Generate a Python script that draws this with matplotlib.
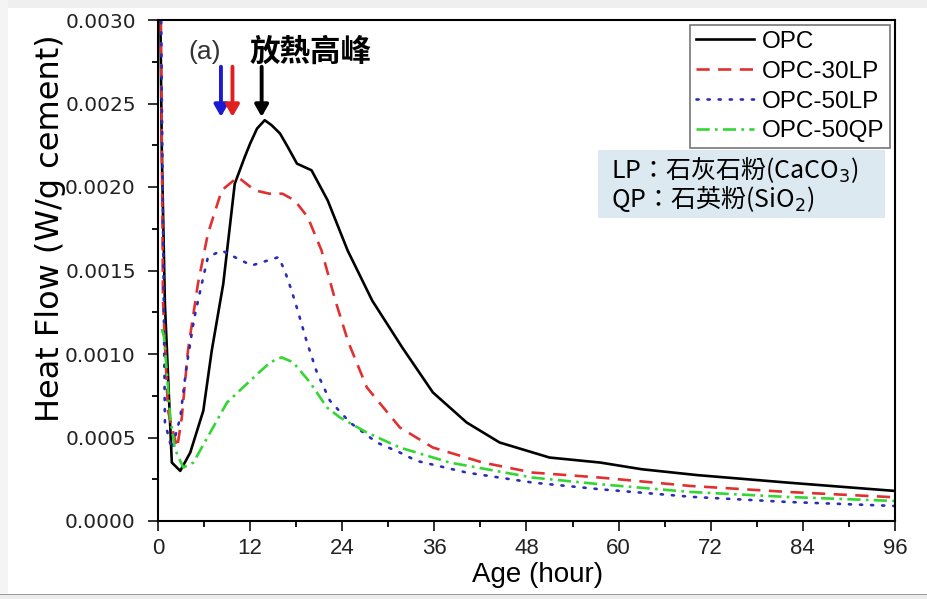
import matplotlib
matplotlib.use('Agg')
import matplotlib.pyplot as plt
from matplotlib.patches import Rectangle
from matplotlib.ticker import MultipleLocator, FormatStrFormatter

plt.rcParams['font.family'] = ['Liberation Sans', 'Noto Sans CJK TC', 'DejaVu Sans']

# Data (hour, W/g cement)
opc_h = [0.2, 0.5, 0.9, 1.8, 2.9, 4.2, 5.9, 7.0, 8.5, 10.0, 11.3, 12.0, 12.9, 13.9, 14.8, 15.9,
         16.9, 18.1, 20.0, 22.1, 24.7, 27.9, 31.8, 35.8, 40.2, 44.5, 51, 57.6, 63, 70.2, 82, 96]
opc_v = [0.0035, 0.0022, 0.0013, 0.00035, 0.0003, 0.00041, 0.00066, 0.00102, 0.00142, 0.00202,
         0.00218, 0.00226, 0.00235, 0.0024, 0.00237, 0.00232, 0.00224, 0.00214, 0.0021, 0.00192,
         0.00162, 0.00132, 0.00104, 0.00077, 0.00059, 0.00047, 0.00038, 0.00035, 0.00031,
         0.000275, 0.00023, 0.00018]

lp30_h = [0.3, 0.65, 1.3, 2.2, 2.5, 3.1, 3.9, 5.2, 6.5, 8.3, 10.4, 12.6, 14.5, 16.2, 17.8, 19.5,
          21.3, 23.1, 24.8, 27.2, 31.5, 35.8, 42.3, 48.8, 57.6, 69.3, 82, 96]
lp30_v = [0.0035, 0.00132, 0.00066, 0.00049, 0.00044, 0.00062, 0.00102, 0.00142, 0.00172, 0.00198,
          0.00206, 0.00198, 0.00196, 0.00196, 0.00192, 0.00182, 0.00162, 0.00132, 0.00107, 0.0008,
          0.00056, 0.00044, 0.00035, 0.00029, 0.00026, 0.00021, 0.000174, 0.000142]

lp50_h = [0.3, 0.9, 1.8, 2.9, 3.7, 4.7, 5.7, 6.5, 8.3, 10, 12.2, 14.3, 15.7, 16.5, 17.4, 18.2, 19.4,
          20.7, 22.4, 25, 28.5, 31.5, 33.7, 40.2, 48.8, 57.6, 69.7, 82, 96]
lp50_v = [0.0035, 0.00059, 0.00043, 0.00062, 0.00092, 0.00121, 0.00142, 0.00158, 0.00162, 0.00158,
          0.00153, 0.00156, 0.00158, 0.0015, 0.00138, 0.00126, 0.00107, 0.00089, 0.00072, 0.00059,
          0.00047, 0.00041, 0.00036, 0.00029, 0.00023, 0.00019, 0.000144, 0.000114, 0.00009]

qp50_h = [0.5, 0.8, 1.6, 2.2, 3.3, 4.6, 6.8, 9, 12, 14.6, 16.1, 17.6, 19.8, 22, 23.7, 27.2, 31.5,
          38, 48.8, 57.6, 69.3, 82, 96]
qp50_v = [0.00115, 0.0011, 0.00062, 0.00043, 0.00032, 0.00035, 0.00053, 0.00071, 0.00084, 0.00095,
          0.00098, 0.00095, 0.00083, 0.00068, 0.00062, 0.00053, 0.00044, 0.00035, 0.00026, 0.00022,
          0.000174, 0.000144, 0.00012]

# arrow x positions (hour) and their colours
arrow_x = [8.2, 9.7, 13.5]
arrow_c = ['#1a1ad0', '#e02020', 'black']

fig = plt.figure(figsize=(9.28, 5.99), dpi=100)
# light grey screenshot edges
fig.patches.append(Rectangle((0, 1 - 8 / 599), 1, 8 / 599, transform=fig.transFigure,
                             facecolor='#efefef', edgecolor='none', zorder=0))
fig.patches.append(Rectangle((0, 0), 8 / 928, 1, transform=fig.transFigure,
                             facecolor='#f4f4f4', edgecolor='none', zorder=0))
fig.patches.append(Rectangle((0, 0), 1, 4 / 599, transform=fig.transFigure,
                             facecolor='#ececec', edgecolor='none', zorder=0))
fig.patches.append(Rectangle((0, 4 / 599), 1, 1.5 / 599, transform=fig.transFigure,
                             facecolor='#9a9a9a', edgecolor='none', zorder=0))

ax = fig.add_axes([158 / 928, 1 - 521 / 599, 737 / 928, 501 / 599])

ax.plot(opc_h, opc_v, color='black', lw=1.9, label='OPC')
ax.plot(lp30_h, lp30_v, color='#e03030', lw=1.9, dashes=(5, 3.2), label='OPC-30LP')
ax.plot(lp50_h, lp50_v, color='#2c2cb8', lw=1.9, dashes=(0.8, 3.4), dash_capstyle='round',
        label='OPC-50LP')
ax.plot(qp50_h, qp50_v, color='#33d633', lw=1.9, dashes=(5, 2, 1, 2), label='OPC-50QP')

ax.set_xlim(0, 96)
ax.set_ylim(0, 0.003)
ax.xaxis.set_major_locator(MultipleLocator(12))
ax.xaxis.set_minor_locator(MultipleLocator(6))
ax.yaxis.set_major_locator(MultipleLocator(0.0005))
ax.yaxis.set_minor_locator(MultipleLocator(0.00025))
ax.yaxis.set_major_formatter(FormatStrFormatter('%.4f'))
ax.tick_params(which='major', direction='out', length=7, width=1.3, colors='#222222')
ax.tick_params(which='minor', direction='out', length=4, width=1.3)
ax.tick_params(axis='x', labelsize=16, pad=5)
ax.tick_params(axis='y', labelsize=14.5, pad=9)
for lab in ax.get_yticklabels():
    lab.set_fontfamily('DejaVu Sans')
for s in ax.spines.values():
    s.set_linewidth(1.5)

ax.set_xlabel('Age (hour)', fontsize=20)
ax.xaxis.set_label_coords(0.5156, -0.082)
ax.set_ylabel('Heat Flow (W/g cement)', fontsize=23, family='DejaVu Sans')
ax.yaxis.set_label_coords(-0.125, 0.585)

leg = ax.legend(loc='upper right', fontsize=17.5, handlelength=2.4, labelspacing=0.32,
                borderaxespad=0.2, borderpad=0.25, fancybox=False, handletextpad=0.3)
leg.get_frame().set_edgecolor('#555555')
leg.get_frame().set_linewidth(1.2)

# info box
ax.add_patch(Rectangle((0.597, 0.605), 0.389, 0.1355, transform=ax.transAxes,
                       facecolor='#dce9f1', edgecolor='none', zorder=3))
ax.text(0.6147, 0.700, 'LP：石灰石粉(CaCO$_3$)', transform=ax.transAxes, fontsize=18,
        va='center', ha='left', zorder=4, family=['Noto Sans CJK TC', 'DejaVu Sans'])
ax.text(0.6147, 0.642, 'QP：石英粉(SiO$_2$)', transform=ax.transAxes, fontsize=18,
        va='center', ha='left', zorder=4, family=['Noto Sans CJK TC', 'DejaVu Sans'])

ax.text(0.0638, 0.937, '(a)', transform=ax.transAxes, fontsize=19, ha='center', va='center',
        color='#333333')
ax.text(0.2076, 0.936, '放熱高峰', transform=ax.transAxes, fontsize=22, ha='center',
        va='center', fontweight='bold', family=['Noto Sans CJK TC', 'DejaVu Sans'])

for xa, ca in zip(arrow_x, arrow_c):
    ax.annotate('', xy=(xa, 0.00242), xytext=(xa, 0.00272),
                arrowprops=dict(arrowstyle='-|>,head_width=0.4,head_length=0.7',
                                color=ca, lw=2.8, shrinkA=0, shrinkB=0))

fig.savefig('out.png', dpi=100, facecolor='white')
